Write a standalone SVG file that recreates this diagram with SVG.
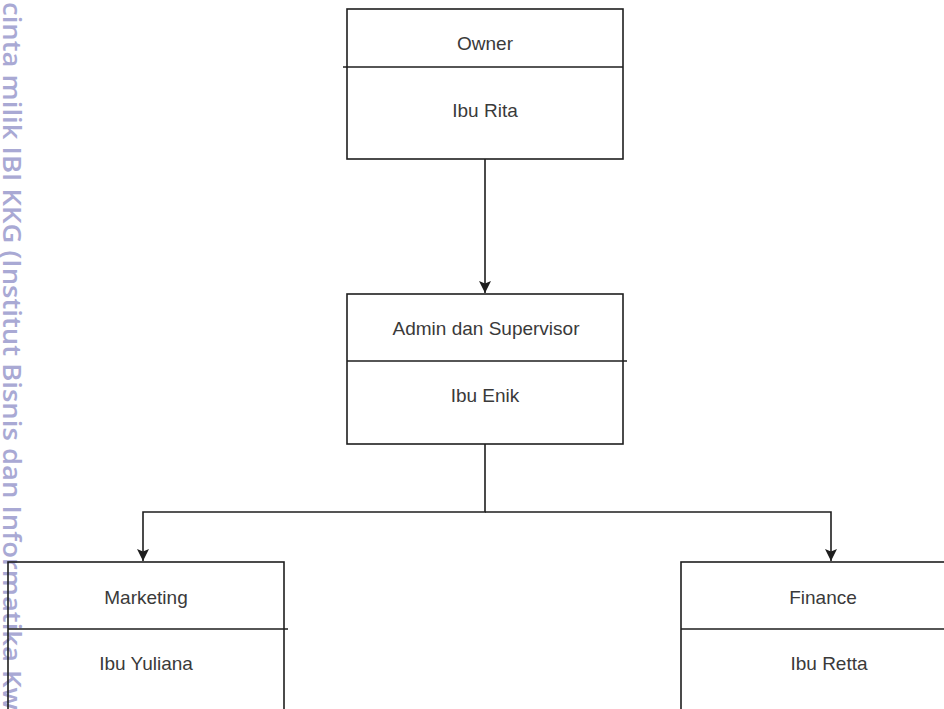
<svg xmlns="http://www.w3.org/2000/svg" width="944" height="709" viewBox="0 0 944 709">
  <style>
    .box { fill: none; stroke: #1e1e1e; stroke-width: 1.6; }
    .div { stroke: #1e1e1e; stroke-width: 1.6; fill: none; }
    .lbl { font-family: "Liberation Sans", Arial, sans-serif; font-size: 19px; fill: #3a3a3a; text-anchor: middle; }
    .conn { stroke: #1e1e1e; stroke-width: 1.6; fill: none; }
    .wm { font-family: "Open Sans", "Noto Sans", sans-serif; font-size: 26px; font-weight: 600; fill: #a9a9d4; }
  </style>
  <defs>
    <marker id="arr" viewBox="0 0 10 10" refX="10" refY="5" markerWidth="12" markerHeight="12" markerUnits="userSpaceOnUse" orient="auto">
      <path d="M0,0 L10,5 L0,10 L2,5 Z" fill="#1e1e1e"/>
    </marker>
  </defs>
  <rect width="944" height="709" fill="#ffffff"/>

  <g id="watermark">
    <text class="wm" transform="translate(3,2) rotate(90)" textLength="660" lengthAdjust="spacingAndGlyphs">cinta milik IBI KKG (Institut Bisnis dan Informatika</text>
    <text class="wm" transform="translate(3,670) rotate(90)" textLength="40" lengthAdjust="spacingAndGlyphs">Kw</text>
  </g>

  <g id="connectors">
    <path class="conn" d="M485,159 V293" marker-end="url(#arr)"/>
    <path class="conn" d="M485,444 V512 H143 V561" marker-end="url(#arr)"/>
    <path class="conn" d="M485,512 H831 V561" marker-end="url(#arr)"/>
  </g>

  <g id="owner">
    <rect class="box" x="347" y="9" width="276" height="150"/>
    <line class="div" x1="343" y1="67" x2="623" y2="67"/>
    <text class="lbl" x="485" y="50">Owner</text>
    <text class="lbl" x="485" y="117">Ibu Rita</text>
  </g>

  <g id="admin">
    <rect class="box" x="347" y="294" width="276" height="150"/>
    <line class="div" x1="347" y1="361" x2="627" y2="361"/>
    <text class="lbl" x="486" y="335">Admin dan Supervisor</text>
    <text class="lbl" x="485" y="402">Ibu Enik</text>
  </g>

  <g id="marketing">
    <rect class="box" x="8" y="562" width="276" height="200"/>
    <line class="div" x1="8" y1="629" x2="288" y2="629"/>
    <text class="lbl" x="146" y="604">Marketing</text>
    <text class="lbl" x="146" y="670">Ibu Yuliana</text>
  </g>

  <g id="finance">
    <rect class="box" x="681" y="562" width="300" height="200"/>
    <line class="div" x1="681" y1="629" x2="944" y2="629"/>
    <text class="lbl" x="823" y="604">Finance</text>
    <text class="lbl" x="829" y="670">Ibu Retta</text>
  </g>
</svg>
